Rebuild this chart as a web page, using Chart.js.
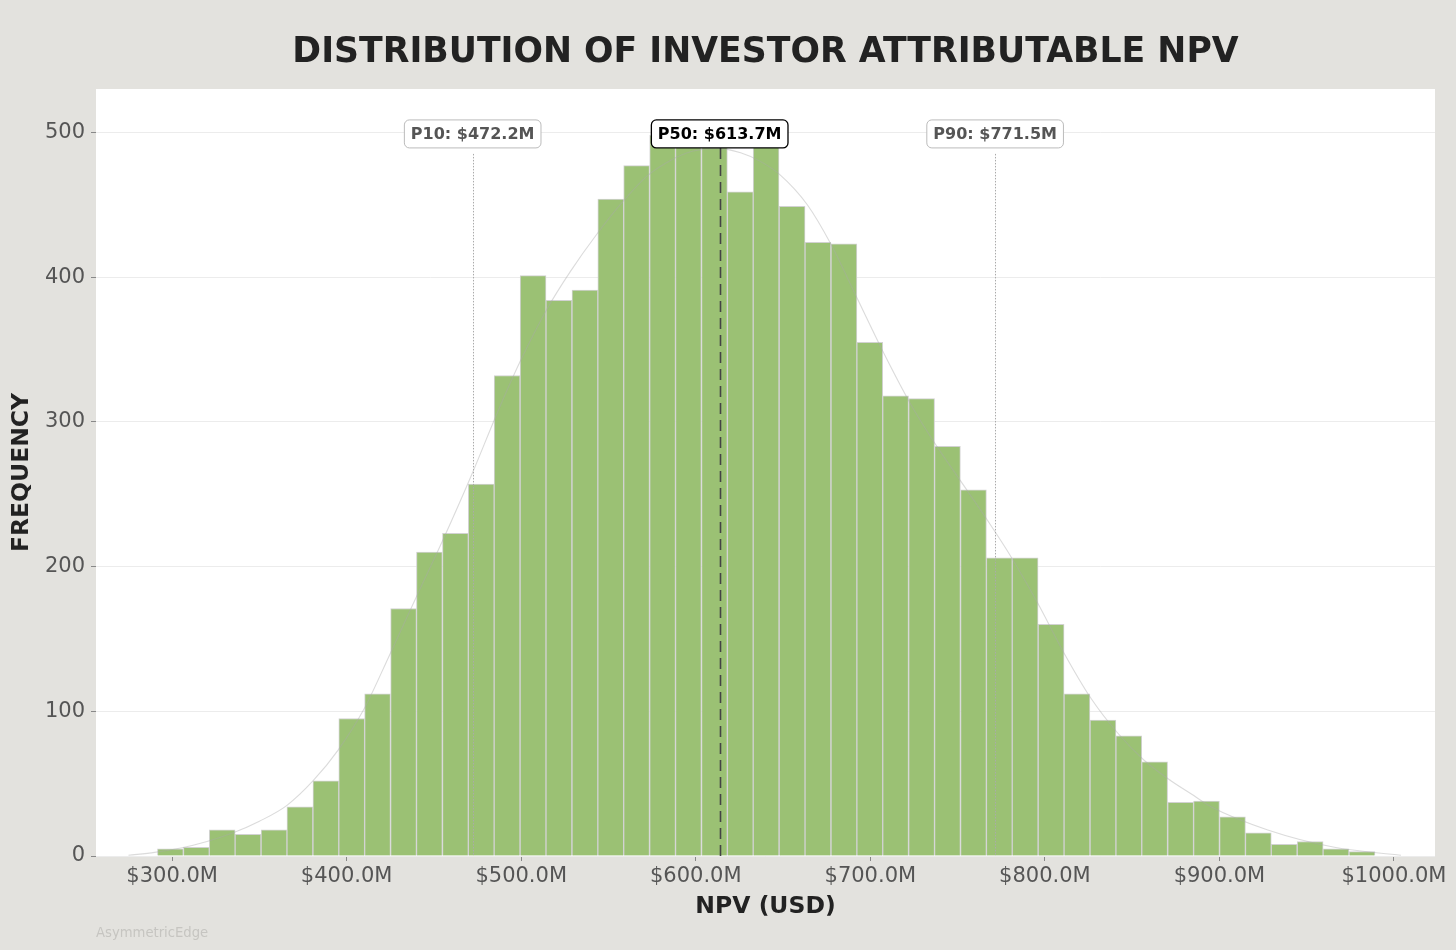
<!DOCTYPE html>
<html>
<head>
<meta charset="utf-8">
<script src="https://cdn.jsdelivr.net/npm/chart.js@4/dist/chart.umd.min.js"></script>
<style>
  html, body { margin: 0; padding: 0; background: #e3e2de; overflow: hidden; }
  canvas { display: block; }
</style>
</head>
<body>
<canvas id="c" width="1456" height="950"></canvas>
<script>
// ---- Data ----
const binCenters = [299.0, 313.9, 328.7, 343.5, 358.4, 373.2, 388.1, 402.9, 417.7, 432.6,
  447.4, 462.3, 477.1, 491.9, 506.8, 521.6, 536.5, 551.3, 566.1, 581.0,
  595.8, 610.7, 625.5, 640.3, 655.2, 670.0, 684.9, 699.7, 714.5, 729.4,
  744.2, 759.1, 773.9, 788.7, 803.6, 818.4, 833.3, 848.1, 862.9, 877.8,
  892.6, 907.5, 922.3, 937.1, 952.0, 966.8, 981.7];
const frequencies = [5, 6, 18, 15, 18, 34, 52, 95, 112, 171,
  210, 223, 257, 332, 401, 384, 391, 454, 477, 498,
  505, 500, 459, 493, 449, 424, 423, 355, 318, 316,
  283, 253, 206, 206, 160, 112, 94, 83, 65, 37,
  38, 27, 16, 8, 10, 5, 3];
const kdeX = [275, 290, 305, 320, 335, 350, 365.8, 380.8, 395, 409.7, 425, 440.3, 455,
  471.8, 486.2, 499.5, 514.8, 528.2, 543.5, 558.8, 572.2, 586, 598, 611, 625.7, 637,
  648, 663.9, 677.3, 692.6, 707.9, 723.2, 736.5, 751.8, 767.1, 780.5, 795.8, 811.1,
  826.4, 841.7, 857, 872.2, 883.7, 895.2, 927.7, 965.9, 1004];
const kdeY = [0.5, 2.5, 5.5, 10, 16, 24, 35, 52, 73, 101, 140, 180, 218,
  264, 306, 342, 378, 404, 430, 453, 470, 481, 487, 489, 486, 480,
  471, 450, 423, 385, 347, 312, 286, 259, 232, 207, 175, 140,
  109, 85, 66, 52, 43, 34, 18, 6, 0.5];
const percentileNames = ['P10', 'P50', 'P90'];
const percentileValues = [472.2, 613.7, 771.5];
const xTickValues = [300, 400, 500, 600, 700, 800, 900, 1000];
const yTickValues = [0, 100, 200, 300, 400, 500];

const titleText = 'DISTRIBUTION OF INVESTOR ATTRIBUTABLE NPV';
const xTitle = 'NPV (USD)';
const yTitle = 'FREQUENCY';
const watermark = 'AsymmetricEdge';

const FONT = "'DejaVu Sans', 'Liberation Sans', sans-serif";
const fmtM = v => '$' + v.toFixed(1) + 'M';

const decorPlugin = {
  id: 'decor',
  beforeDraw(chart) {
    const ctx = chart.ctx, a = chart.chartArea;
    ctx.save();
    ctx.fillStyle = '#e3e2de';
    ctx.fillRect(0, 0, chart.width, chart.height);
    ctx.fillStyle = '#ffffff';
    ctx.fillRect(a.left, a.top, a.right - a.left, a.bottom - a.top);
    ctx.restore();
  },
  afterDatasetsDraw(chart) {
    const ctx = chart.ctx, a = chart.chartArea;
    const xs = chart.scales.x, ys = chart.scales.y;
    const labelY = ys.getPixelForValue(500) + 1.5;
    ctx.save();
    // percentile lines
    percentileValues.forEach((v, i) => {
      const px = Math.round(xs.getPixelForValue(v)) + 0.5;
      ctx.beginPath();
      if (percentileNames[i] === 'P50') {
        ctx.strokeStyle = '#444444';
        ctx.lineWidth = 1.6;
        ctx.setLineDash([11, 6]);
        ctx.moveTo(px, labelY + 14);
      } else {
        ctx.strokeStyle = '#aaaaaa';
        ctx.lineWidth = 1;
        ctx.setLineDash([1.5, 1.5]);
        ctx.moveTo(px, labelY + 20);
      }
      ctx.lineTo(px, a.bottom);
      ctx.stroke();
    });
    ctx.setLineDash([]);
    // labels
    ctx.font = 'bold 16px ' + FONT;
    ctx.textAlign = 'center';
    ctx.textBaseline = 'middle';
    percentileValues.forEach((v, i) => {
      const px = xs.getPixelForValue(v);
      const txt = percentileNames[i] + ': ' + fmtM(v);
      const w = ctx.measureText(txt).width + 13;
      const h = 28;
      const main = percentileNames[i] === 'P50';
      ctx.beginPath();
      ctx.roundRect(px - w / 2, labelY - h / 2, w, h, 5);
      ctx.fillStyle = '#ffffff';
      ctx.fill();
      ctx.lineWidth = main ? 1.3 : 1;
      ctx.strokeStyle = main ? '#000000' : '#bbbbbb';
      ctx.stroke();
      ctx.fillStyle = main ? '#000000' : '#555555';
      ctx.fillText(txt, px, labelY + 1);
    });
    ctx.restore();
  },
  afterDraw(chart) {
    const ctx = chart.ctx, a = chart.chartArea;
    const cx = (a.left + a.right) / 2;
    ctx.save();
    ctx.textAlign = 'center';
    ctx.textBaseline = 'middle';
    ctx.fillStyle = '#222222';
    ctx.font = 'bold 34.7px ' + FONT;
    ctx.fillText(titleText, cx, 53);
    ctx.font = 'bold 23.5px ' + FONT;
    ctx.fillText(xTitle, cx, 907);
    ctx.save();
    ctx.translate(22, (a.top + a.bottom) / 2);
    ctx.rotate(-Math.PI / 2);
    ctx.fillText(yTitle, 0, 0);
    ctx.restore();
    ctx.textAlign = 'left';
    ctx.fillStyle = '#c6c5c1';
    ctx.font = '13.2px ' + FONT;
    ctx.fillText(watermark, 96, 934);
    ctx.restore();
  }
};

new Chart(document.getElementById('c'), {
  type: 'bar',
  data: {
    datasets: [
      {
        type: 'line',
        data: kdeX.map((x, i) => ({ x: x, y: kdeY[i] })),
        borderColor: 'rgba(170,170,170,0.42)',
        borderWidth: 1.1,
        pointRadius: 0,
        cubicInterpolationMode: 'monotone',
        fill: false,
        order: 0
      },
      {
        type: 'bar',
        data: binCenters.map((x, i) => ({ x: x, y: frequencies[i] })),
        backgroundColor: '#9bc174',
        borderColor: '#d2d2d2',
        borderWidth: 1,
        barPercentage: 1,
        categoryPercentage: 1,
        order: 1
      }
    ]
  },
  options: {
    responsive: false,
    animation: false,
    devicePixelRatio: 1,
    layout: { padding: { top: 89, right: 21, left: 0, bottom: 0 } },
    plugins: { legend: { display: false }, tooltip: { enabled: false }, title: { display: false } },
    scales: {
      x: {
        type: 'linear',
        min: 256.4,
        max: 1023.5,
        offset: false,
        afterFit(s) { s.height = 94; },
        afterBuildTicks(s) { s.ticks = xTickValues.map(v => ({ value: v })); },
        grid: { drawOnChartArea: false, offset: false, tickLength: 5, tickColor: '#888888', tickWidth: 1 },
        border: { display: false },
        ticks: {
          autoSkip: false, maxRotation: 0, padding: 3,
          color: '#555555', font: { family: FONT, size: 21 },
          callback: v => fmtM(v)
        }
      },
      y: {
        min: 0,
        max: 530,
        afterFit(s) { s.width = 96; },
        afterBuildTicks(s) { s.ticks = yTickValues.map(v => ({ value: v })); },
        grid: { color: '#ececec', lineWidth: 1, tickLength: 5, tickColor: '#888888' },
        border: { display: false },
        ticks: { padding: 6, color: '#555555', font: { family: FONT, size: 21 } }
      }
    }
  },
  plugins: [decorPlugin]
});
</script>
</body>
</html>
